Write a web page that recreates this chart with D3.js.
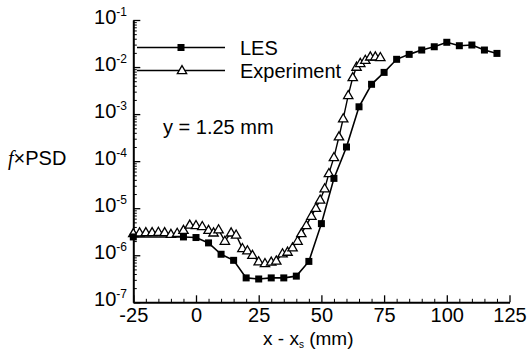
<!DOCTYPE html>
<html>
<head>
<meta charset="utf-8">
<script src="https://cdn.jsdelivr.net/npm/d3@7"></script>
<style>
  body { margin: 0; background: #fff; }
  svg { display: block; }
  text { font-family: "Liberation Sans", Arial, Helvetica, sans-serif; fill: #000; }
</style>
</head>
<body>
<div id="chart"></div>
<script>
// LES data (x - xs in mm, f x PSD)
let lesX = [-25, -5, 0, 5, 10, 15, 20, 25, 30, 35, 40, 45, 50, 55, 60, 65, 70, 75, 80, 85, 90, 95, 100, 105, 110, 115, 120];
let lesY = [2.45e-6, 2.45e-6, 2.38e-6, 1.83e-6, 1.05e-6, 7.8e-7, 3.3e-7, 3.13e-7, 3.3e-7, 3.3e-7, 3.6e-7, 7.4e-7, 4.7e-6,
    4.3e-5, 2.0e-4, 1.43e-3, 4.3e-3, 7.7e-3, 1.46e-2, 1.86e-2, 2.3e-2, 2.7e-2, 3.36e-2, 2.84e-2, 2.94e-2, 2.3e-2, 1.95e-2];

// Experiment data
let expX = [-25, -22.5, -20, -17.5, -15, -12.5, -10, -7.5, -5, -2.5, 0, 2.5, 5, 7, 9, 11.5, 14, 16, 18.5, 20.5, 22.5, 25, 27.5,
    30, 32, 34.5, 36.5, 38.5, 40.5, 42, 44, 46, 47.8, 49.5, 51.3, 53, 55, 57, 58.7, 60.7, 62.5, 64, 65.5, 67.5, 69.5, 71.5, 73.5];
let expY = [2.9e-6, 3.0e-6, 3.05e-6, 3.05e-6, 3.1e-6, 3.05e-6, 2.8e-6, 2.95e-6, 3.4e-6, 4.4e-6, 4.3e-6, 4.1e-6, 3.4e-6, 3.0e-6,
    3.5e-6, 2.0e-6, 3.0e-6, 2.7e-6, 1.4e-6, 1.25e-6, 1.0e-6, 7.3e-7, 6.7e-7, 7.2e-7, 7.6e-7, 1.08e-6, 1.17e-6, 1.45e-6, 2.0e-6,
    2.9e-6, 4.3e-6, 6.8e-6, 1.0e-5, 1.5e-5, 2.6e-5, 5.5e-5, 1.2e-4, 3.3e-4, 8.0e-4, 2.5e-3, 6.0e-3, 1.0e-2, 1.2e-2, 1.4e-2,
    1.65e-2, 1.65e-2, 1.6e-2];

// axis ticks
let xTicks = [-25, 0, 25, 50, 75, 100, 125];
let yExponents = [-7, -6, -5, -4, -3, -2, -1];

let W = 531, H = 349;
let fs = 20;
let svg = d3.select('#chart').append('svg').attr('width', W).attr('height', H);

let x = d3.scaleLinear().domain([-25, 125]).range([133.3, 509.5]);
let y = d3.scaleLog().domain([1e-7, 1e-1]).range([302.3, 20]);

//x minor ticks every 5
let xMinor = d3.range(-25, 126, 5).filter(v => xTicks.indexOf(v) < 0);
svg.append('g').attr('transform', 'translate(0,302.3)')
    .call(d3.axisBottom(x).tickValues(xMinor).tickSize(-3.5).tickFormat(''))
    .call(g => g.select('.domain').remove());
let xAxis = svg.append('g').attr('transform', 'translate(0,302.3)')
    .call(d3.axisBottom(x).tickValues(xTicks).tickSize(-7).tickPadding(6).tickSizeOuter(0)
        .tickFormat(d => String(d)));
xAxis.selectAll('text').attr('font-size', fs).style('font-family', '"Liberation Sans", Arial, sans-serif');

//y minor ticks (2..9 per decade)
let yMinor = [];
yExponents.slice(0, -1).forEach(e => {
    for (let k = 2; k <= 9; k++) yMinor.push(k * Math.pow(10, e));
});
svg.append('g').attr('transform', 'translate(133.3,0)')
    .call(d3.axisLeft(y).tickValues(yMinor).tickSize(-3.5).tickFormat(''))
    .call(g => g.select('.domain').remove());
let yAxis = svg.append('g').attr('transform', 'translate(133.3,0)')
    .call(d3.axisLeft(y).tickValues(yExponents.map(e => Math.pow(10, e))).tickSize(-7).tickFormat('').tickSizeOuter(0));

[xAxis, yAxis].forEach(a => {
    a.select('.domain').attr('stroke-width', 2);
    a.selectAll('.tick line').attr('stroke-width', 1.3);
});
svg.selectAll('.tick line').attr('stroke', '#000');

//y tick labels 10^n
let yLab = svg.append('g').selectAll('text').data(yExponents).enter().append('text')
    .attr('x', 127)
    .attr('y', d => y(Math.pow(10, d)) + 4)
    .attr('text-anchor', 'end')
    .attr('font-size', fs);
yLab.append('tspan').text('10');
yLab.append('tspan').attr('dy', -8).attr('font-size', 12).text(d => '-' + Math.abs(d));

//lines
let line = d3.line().x(d => x(d[0])).y(d => y(d[1]));
let lesData = lesX.map((v, i) => [v, lesY[i]]);
let expData = expX.map((v, i) => [v, expY[i]]);

svg.append('path').datum(lesData).attr('d', line)
    .attr('fill', 'none').attr('stroke', '#000').attr('stroke-width', 1.6);
svg.append('path').datum(expData).attr('d', line)
    .attr('fill', 'none').attr('stroke', '#000').attr('stroke-width', 1.4);

let sq = 7;
let tri = d3.symbol().type(d3.symbolTriangle).size(38);

svg.append('g').selectAll('path').data(expData).enter().append('path')
    .attr('d', tri)
    .attr('transform', d => 'translate(' + x(d[0]) + ',' + (y(d[1]) + 0.5) + ')')
    .attr('fill', '#fff').attr('stroke', '#000').attr('stroke-width', 1.3);

svg.append('g').selectAll('rect').data(lesData).enter().append('rect')
    .attr('x', d => x(d[0]) - sq / 2)
    .attr('y', d => y(d[1]) - sq / 2)
    .attr('width', sq).attr('height', sq)
    .attr('fill', '#000');

//legend
let legend = svg.append('g');
legend.append('line').attr('x1', 137).attr('x2', 225).attr('y1', 47.5).attr('y2', 47.5)
    .attr('stroke', '#000').attr('stroke-width', 1.6);
legend.append('rect').attr('x', 181 - sq / 2).attr('y', 47.5 - sq / 2).attr('width', sq).attr('height', sq).attr('fill', '#000');
legend.append('text').attr('x', 240).attr('y', 54.5).attr('font-size', fs).text('LES');
legend.append('line').attr('x1', 137).attr('x2', 225).attr('y1', 70.5).attr('y2', 70.5)
    .attr('stroke', '#000').attr('stroke-width', 1.4);
legend.append('path').attr('d', tri).attr('transform', 'translate(182,71)')
    .attr('fill', '#fff').attr('stroke', '#000').attr('stroke-width', 1.3);
legend.append('text').attr('x', 240).attr('y', 77.5).attr('font-size', fs).text('Experiment');

//annotation
svg.append('text').attr('x', 163).attr('y', 134).attr('font-size', fs).text('y = 1.25 mm');

//axis titles
let yt = svg.append('text').attr('x', 8).attr('y', 165).attr('font-size', fs);
yt.append('tspan').style('font-family', '"Liberation Serif", "Times New Roman", serif').attr('font-style', 'italic').text('f');
yt.append('tspan').text('×PSD');

let xt = svg.append('text').attr('x', 263).attr('y', 345).attr('font-size', 19);
xt.append('tspan').text('x - x');
xt.append('tspan').attr('font-size', 10).attr('dy', 3).text('s');
xt.append('tspan').attr('dy', -3).text(' (mm)');
</script>
</body>
</html>
